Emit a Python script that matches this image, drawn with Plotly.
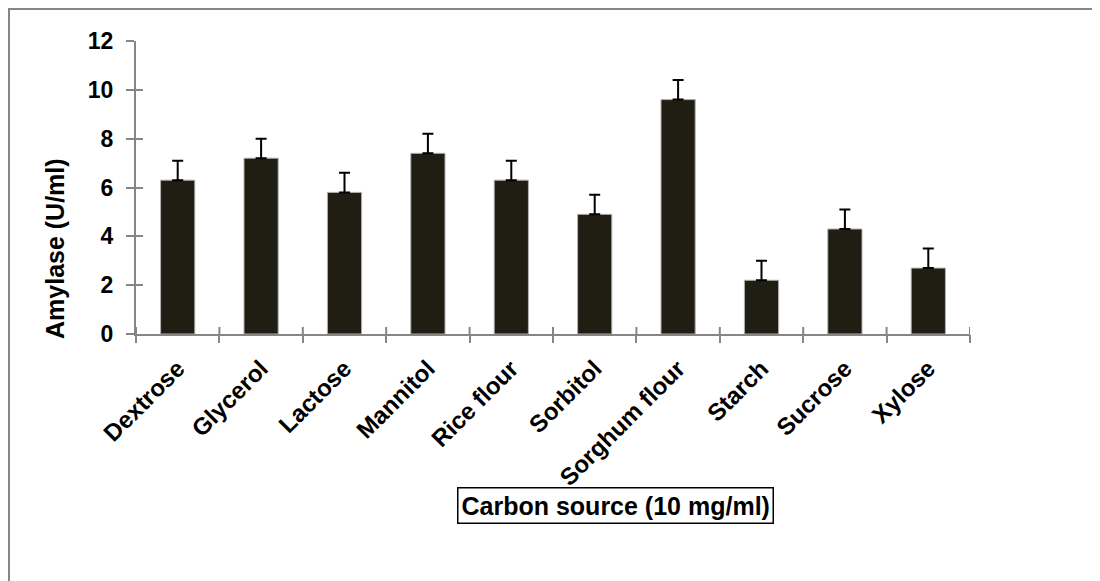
import plotly.graph_objects as go

categories = ["Dextrose", "Glycerol", "Lactose", "Mannitol", "Rice flour",
              "Sorbitol", "Sorghum flour", "Starch", "Sucrose", "Xylose"]
amylase = [6.3, 7.2, 5.8, 7.4, 6.3, 4.9, 9.6, 2.2, 4.3, 2.7]
errors = [0.8, 0.8, 0.8, 0.8, 0.8, 0.8, 0.8, 0.8, 0.8, 0.8]
y_ticks = [0, 2, 4, 6, 8, 10, 12]

W, H = 1100, 581
OFF = 8  # page body margin
L, R, T, B = 136 - OFF, W - (970 - OFF), 41 - OFF, H - (334 - OFF)
pw, ph = W - L - R, H - T - B

FONT = "Arial, Liberation Sans, sans-serif"
GRAY = "#868686"

fig = go.Figure()
fig.add_trace(go.Bar(
    x=list(range(len(categories))), y=amylase,
    width=0.41,
    marker=dict(color="#201d12", line=dict(color="#b0b0b0", width=1)),
    error_y=dict(type="data", array=errors, symmetric=False, arrayminus=[0]*len(errors),
                 color="black", thickness=2, width=5.5),
    showlegend=False,
))
fig.add_trace(go.Scatter(x=[None], y=[None], xaxis="x2", yaxis="y2", showlegend=False))

bounds = [i - 0.5 for i in range(len(categories) + 1)]

fig.update_layout(
    width=W, height=H,
    margin=dict(l=L, r=R, t=T, b=B),
    paper_bgcolor="white", plot_bgcolor="white",
    font=dict(family=FONT, color="black"),
    xaxis=dict(
        range=[-0.5, 9.5], tickmode="array",
        tickvals=list(range(len(categories))), ticktext=categories,
        tickangle=-45, ticks="", showgrid=False, zeroline=False,
        showline=True, linecolor=GRAY, linewidth=2,
        ticklabelstandoff=9,
        tickfont=dict(size=24, family=FONT, weight="bold"),
    ),
    yaxis=dict(
        range=[0, 12], tickmode="array", tickvals=y_ticks,
        ticks="outside", ticklen=8, tickwidth=2, tickcolor=GRAY,
        showgrid=False, zeroline=False,
        showline=True, linecolor=GRAY, linewidth=2,
        ticklabelstandoff=8,
        tickfont=dict(size=23, family=FONT, weight="bold"),
    ),
    xaxis2=dict(
        overlaying="x", range=[-0.5, 9.5], tickmode="array", tickvals=bounds,
        ticks="outside", ticklen=8, tickwidth=2, tickcolor=GRAY,
        showticklabels=False, showgrid=False, zeroline=False, showline=False,
        anchor="y2", side="bottom",
    ),
    yaxis2=dict(
        overlaying="y", range=[0, 12], tickmode="array", tickvals=y_ticks,
        ticks="inside", ticklen=7, tickwidth=2, tickcolor=GRAY,
        showticklabels=False, showgrid=False, zeroline=False, showline=False,
        anchor="x2", side="left",
    ),
)

for b in bounds:
    fig.add_shape(type="line", xref="x", yref="paper", x0=b, x1=b,
                  y0=0, y1=7 / ph, line=dict(color=GRAY, width=2))

# y-axis title (placed low, as in the original)
fig.add_annotation(
    text="<b>Amylase (U/ml)</b>", xref="paper", yref="paper",
    x=(55 - OFF - L) / pw, y=(H - B - (249 - OFF)) / ph,
    xanchor="center", yanchor="middle", textangle=-90,
    showarrow=False, font=dict(size=25, family=FONT, color="black"),
)

# x-axis title in a box
fig.add_annotation(
    text="<b>Carbon source (10 mg/ml)</b>", xref="paper", yref="paper",
    x=(615 - OFF - L) / pw, y=(H - B - (505.5 - OFF)) / ph, xanchor="center", yanchor="middle",
    showarrow=False, font=dict(size=25, family=FONT, color="black"),
    bordercolor="black", borderwidth=1.5, borderpad=3, bgcolor="white",
)

# outer chart border
fig.add_shape(type="rect", xref="paper", yref="paper",
              x0=(1 - L) / pw, x1=(W + 50 - L) / pw,
              y0=(H - B - (H + 50)) / ph, y1=(H - B - 1) / ph,
              line=dict(color=GRAY, width=2), layer="below")

fig.write_html("out.html")
